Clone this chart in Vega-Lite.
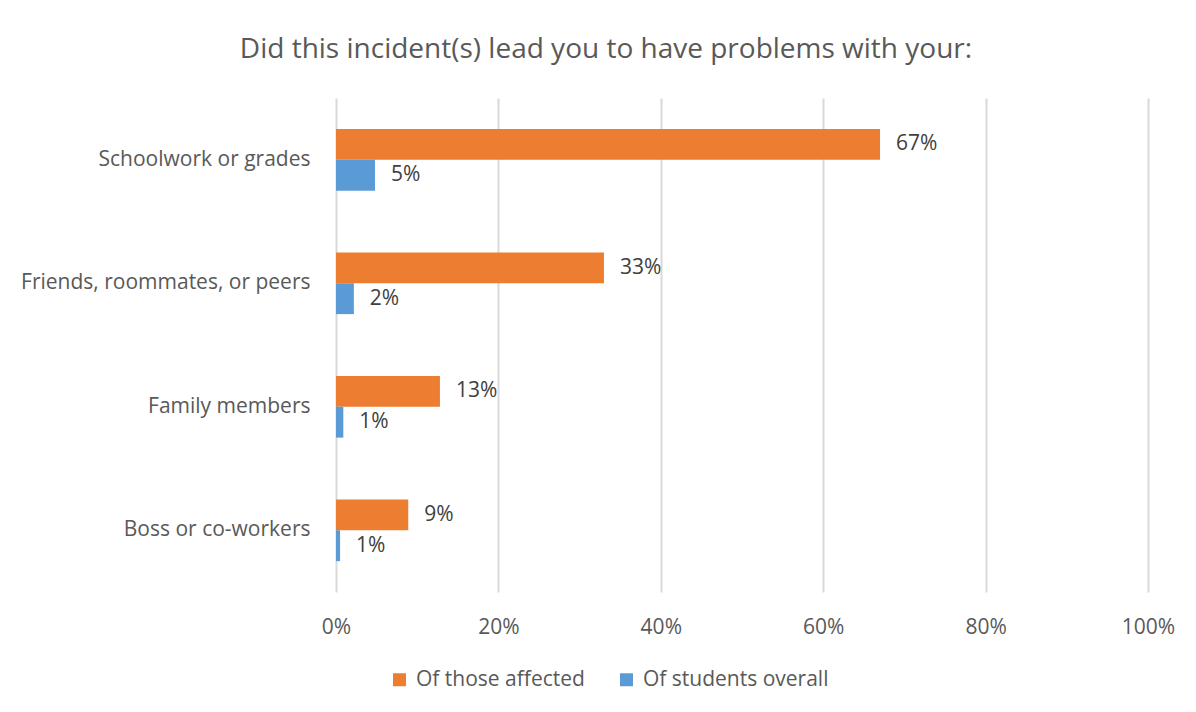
{
  "$schema": "https://vega.github.io/schema/vega-lite/v6.json",
  "width": 812,
  "height": 494,
  "autosize": {"type": "none"},
  "padding": {"left": 336, "top": 98, "right": 48, "bottom": 120},
  "background": "white",
  "title": {
    "text": "Did this incident(s) lead you to have problems with your:",
    "anchor": "middle",
    "dx": -136,
    "offset": 34,
    "fontSize": 28,
    "fontWeight": "normal",
    "color": "#595959",
    "font": "Open Sans"
  },
  "data": {
    "values": [
      {"category": "Schoolwork or grades", "series": "Of those affected", "value": 0.67, "label": "67%"},
      {"category": "Schoolwork or grades", "series": "Of students overall", "value": 0.048, "label": "5%"},
      {"category": "Friends, roommates, or peers", "series": "Of those affected", "value": 0.33, "label": "33%"},
      {"category": "Friends, roommates, or peers", "series": "Of students overall", "value": 0.022, "label": "2%"},
      {"category": "Family members", "series": "Of those affected", "value": 0.128, "label": "13%"},
      {"category": "Family members", "series": "Of students overall", "value": 0.009, "label": "1%"},
      {"category": "Boss or co-workers", "series": "Of those affected", "value": 0.089, "label": "9%"},
      {"category": "Boss or co-workers", "series": "Of students overall", "value": 0.005, "label": "1%"}
    ]
  },
  "encoding": {
    "y": {
      "field": "category",
      "type": "nominal",
      "sort": null,
      "scale": {"paddingInner": 0.5, "paddingOuter": 0.25},
      "axis": {
        "title": null,
        "domain": false,
        "ticks": false,
        "labelPadding": 26,
        "labelFontSize": 21,
        "labelColor": "#595959",
        "labelFont": "Open Sans",
        "labelLimit": 400
      }
    },
    "yOffset": {"field": "series", "type": "nominal", "sort": ["Of those affected", "Of students overall"], "scale": {"paddingInner": 0, "paddingOuter": 0}},
    "x": {
      "field": "value",
      "type": "quantitative",
      "scale": {"domain": [0, 1]},
      "axis": {
        "title": null,
        "format": ".0%",
        "values": [0, 0.2, 0.4, 0.6, 0.8, 1],
        "domain": false,
        "ticks": false,
        "labelFlush": false,
        "labelOverlap": false,
        "labelPadding": 24,
        "labelFontSize": 21,
        "labelColor": "#595959",
        "labelFont": "Open Sans",
        "gridColor": "#D9D9D9",
        "gridWidth": 2
      }
    }
  },
  "layer": [
    {
      "mark": {"type": "bar"},
      "encoding": {
        "color": {
          "field": "series",
          "type": "nominal",
          "sort": ["Of those affected", "Of students overall"],
          "scale": {"domain": ["Of those affected", "Of students overall"], "range": ["#ED7D31", "#5B9BD5"]},
          "legend": {
            "title": null,
            "orient": "none",
            "direction": "horizontal",
            "legendX": 53,
            "legendY": 571,
            "symbolType": "square",
            "symbolSize": 169,
            "symbolStrokeWidth": 0,
            "labelFontSize": 21,
            "labelLimit": 400,
            "labelColor": "#595959",
            "labelFont": "Open Sans",
            "columnPadding": 31,
            "labelOffset": 6
          }
        }
      }
    },
    {
      "mark": {"type": "text", "align": "left", "baseline": "middle", "dx": 16, "fontSize": 21, "color": "#404040", "font": "Open Sans"},
      "encoding": {"text": {"field": "label"}}
    }
  ],
  "config": {"view": {"stroke": null}}
}
